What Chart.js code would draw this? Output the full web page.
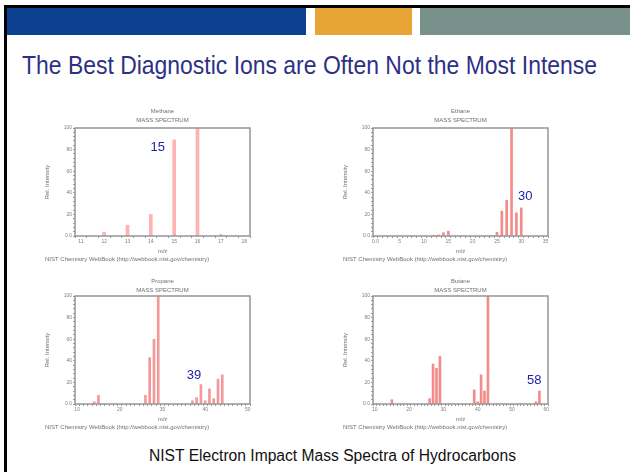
<!DOCTYPE html>
<html>
<head>
<meta charset="utf-8">
<script src="https://cdn.jsdelivr.net/npm/chart.js@4.4.1/dist/chart.umd.min.js"></script>
<style>
  body { margin: 0; width: 630px; height: 472px; position: relative; overflow: hidden; background: #fff; font-family: "Liberation Sans", Arial, sans-serif; }
  .blk { position: absolute; }
  #title { position: absolute; left: 22px; top: 52px; font-size: 26px; line-height: 26px; color: #2d3186; white-space: nowrap; transform-origin: 0 0; }
  #caption { position: absolute; left: 149px; top: 448px; font-size: 16px; line-height: 16px; color: #111; white-space: nowrap; transform-origin: 0 0; }
  canvas { position: absolute; }
</style>
</head>
<body>
<div class="blk" style="left:4px;top:5px;width:626px;height:3px;background:#000"></div>
<div class="blk" style="left:4px;top:5px;width:3px;height:467px;background:#000"></div>
<div class="blk" style="left:7px;top:8px;width:299px;height:27px;background:#0b418f"></div>
<div class="blk" style="left:315px;top:8px;width:97px;height:27px;background:#e8a434"></div>
<div class="blk" style="left:420px;top:8px;width:210px;height:27px;background:#78918a"></div>
<div id="title">The Best Diagnostic Ions are Often Not the Most Intense</div>
<div id="caption">NIST Electron Impact Mass Spectra of Hydrocarbons</div>

<canvas id="methane" width="230" height="170" style="left:40px;top:100px"></canvas>
<canvas id="ethane" width="230" height="170" style="left:338px;top:100px"></canvas>
<canvas id="propane" width="230" height="170" style="left:40px;top:268px"></canvas>
<canvas id="butane" width="230" height="170" style="left:338px;top:268px"></canvas>

<script>
// mass spectra values (m/z, relative intensity)
const methaneMz = [12, 13, 14, 15, 16, 17];
const methaneInt = [3.5, 10, 20, 89, 100, 1.5];

const ethaneMz = [12, 13, 14, 15, 24, 25, 26, 27, 28, 29, 30];
const ethaneInt = [0.5, 1, 3, 4.5, 0.5, 3.5, 23, 33, 100, 21.5, 26];

const propaneMz = [14, 15, 26, 27, 28, 29, 37, 38, 39, 40, 41, 42, 43, 44];
const propaneInt = [2, 8, 8, 43, 60, 100, 3, 6, 18, 3, 14, 5, 23, 27];

const butaneMz = [15, 26, 27, 28, 29, 39, 40, 41, 42, 43, 57, 58];
const butaneInt = [4, 5, 37, 33, 44, 13, 2, 27, 12, 100, 2, 12];

const yTicks = [0, 20, 40, 60, 80, 100];

// fit slide texts to their width
function fitWidth(id, w) {
  let el = document.getElementById(id);
  let real = el.getBoundingClientRect().width;
  el.style.transform = "scaleX(" + (w / real) + ")";
}
fitWidth("title", 575);
fitWidth("caption", 367);

Chart.defaults.font.family = '"Liberation Sans", Arial, sans-serif';

// frame, small captions and the blue ion label
const nistFrame = {
  id: "nistFrame",
  afterDraw(chart, args, opts) {
    const ctx = chart.ctx;
    const a = chart.chartArea;
    ctx.save();
    ctx.strokeStyle = "#959595";
    ctx.lineWidth = 1.5;
    ctx.strokeRect(a.left, a.top, a.right - a.left, a.bottom - a.top);

    ctx.fillStyle = "#6e6e6e";
    ctx.font = '6px "Liberation Sans"';
    ctx.textAlign = "center";
    ctx.textBaseline = "middle";
    let cx = (a.left + a.right) / 2;
    ctx.fillText(opts.name, cx, a.top + opts.titleOff);
    ctx.fillText("MASS SPECTRUM", cx, a.top + opts.titleOff + 9);
    ctx.fillText("m/z", cx, a.bottom + 15);
    ctx.textAlign = "left";
    ctx.fillText("NIST Chemistry WebBook (http://webbook.nist.gov/chemistry)", 5, a.bottom + 23);
    ctx.translate(a.left - 28, (a.top + a.bottom) / 2);
    ctx.rotate(-Math.PI / 2);
    ctx.textAlign = "center";
    ctx.fillText("Rel. Intensity", 0, 0);
    ctx.restore();

    ctx.save();
    ctx.fillStyle = "#1f22a8";
    ctx.font = '13px "Liberation Sans"';
    ctx.textAlign = "center";
    ctx.textBaseline = "middle";
    ctx.fillText(opts.label, chart.scales.x.getPixelForValue(opts.labelAt[0]), chart.scales.y.getPixelForValue(opts.labelAt[1]));
    ctx.restore();
  }
};

function renderSpectrum(id, name, mz, intensity, xMin, xMax, step, labelEvery, barW, color, label, labelAt, titleOff) {
  let points = mz.map((m, i) => ({ x: m, y: intensity[i] }));
  new Chart(document.getElementById(id), {
    type: "bar",
    data: {
      datasets: [{
        data: points,
        backgroundColor: color,
        barThickness: barW,
        borderWidth: 0
      }]
    },
    options: {
      responsive: false,
      devicePixelRatio: 1,
      animation: false,
      layout: { padding: { left: 15, right: 20, top: 28, bottom: 24 } },
      plugins: {
        legend: { display: false },
        tooltip: { enabled: false },
        nistFrame: { name: name, label: label, labelAt: labelAt, titleOff: titleOff }
      },
      scales: {
        x: {
          type: "linear",
          min: xMin,
          max: xMax,
          afterFit(s) { s.height = 10; },
          border: { display: false },
          grid: { drawOnChartArea: false, tickLength: 2, color: "#9a9a9a" },
          ticks: {
            stepSize: step,
            autoSkip: false,
            maxRotation: 0,
            padding: 1,
            color: "#808080",
            font: { size: 5 },
            callback: v => {
              let r = Math.round(v);
              if (Math.abs(v - r) > 1e-6 || r % labelEvery !== 0) return "";
              return r === 0 ? "0.0" : String(r);
            }
          }
        },
        y: {
          min: 0,
          max: 100,
          afterFit(s) { s.width = 20; },
          border: { display: false },
          grid: { drawOnChartArea: false, tickLength: 2, color: "#9a9a9a" },
          ticks: {
            stepSize: 4,
            autoSkip: false,
            padding: 1,
            color: "#808080",
            font: { size: 5 },
            callback: v => yTicks.includes(v) ? (v === 0 ? "0.0" : String(v)) : ""
          }
        }
      }
    },
    plugins: [nistFrame]
  });
}

renderSpectrum("methane", "Methane", methaneMz, methaneInt, 11, 18, 0.5, 1, 3, "rgba(255,140,140,0.65)", "15", [14.3, 82], -17);
renderSpectrum("ethane", "Ethane", ethaneMz, ethaneInt, 0, 35, 1, 5, 2, "rgba(240,100,100,0.75)", "30", [30.8, 37], -17);
renderSpectrum("propane", "Propane", propaneMz, propaneInt, 10, 50, 1, 10, 2, "rgba(240,110,110,0.7)", "39", [37.4, 26], -15);
renderSpectrum("butane", "Butane", butaneMz, butaneInt, 10, 60, 1, 10, 2, "rgba(240,100,100,0.75)", "58", [56.5, 21.5], -15);
</script>
</body>
</html>
